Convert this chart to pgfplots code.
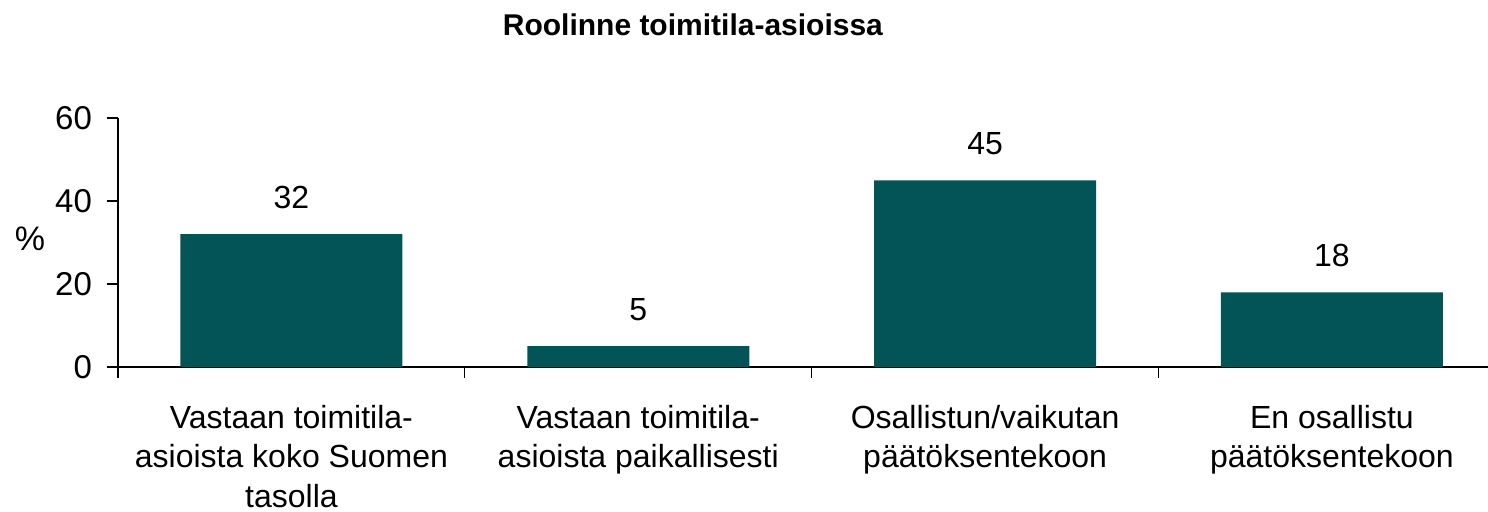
\documentclass[border=0pt]{standalone}
\usepackage{fontspec}
\setmainfont{Liberation Sans}
\usepackage{pgfplots}
\pgfplotsset{compat=1.18}
\definecolor{barc}{RGB}{2,84,87}
\begin{document}
\begin{tikzpicture}
\begin{axis}[
  at={(0,0)}, anchor=south west,
  scale only axis, width=685pt, height=124.5pt,
  xmin=-0.5, xmax=3.45, ymin=0, ymax=60,
  axis lines=left, axis line style={-, line width=0.6pt},
  ytick={0,20,40,60},
  tick align=outside, major tick length=5.5pt,
  tick style={black, line width=0.6pt},
  xtick={0,1,2,3},
  major x tick style={draw=none},
  minor xtick={-0.5,0.5,1.5,2.5},
  minor tick length=5.5pt,
  minor x tick style={black, line width=0.6pt},
  xticklabels={{Vastaan toimitila-\\asioista koko Suomen\\tasolla},{Vastaan toimitila-\\asioista paikallisesti},{Osallistun/vaikutan\\päätöksentekoon},{En osallistu\\päätöksentekoon}},
  xticklabel style={align=center, font=\fontsize{16}{19.7}\selectfont, anchor=north, yshift=-10pt},
  yticklabel style={font=\fontsize{16.5}{19}\selectfont, xshift=-4pt},
  /pgf/number format/assume math mode=true,
  ylabel={\%}, ylabel style={rotate=-90, at={(axis description cs:0,0.5)}, anchor=center, xshift=-44pt, yshift=2pt, font=\fontsize{17}{19}\selectfont},
  title={\textbf{Roolinne toimitila-asioissa}},
  title style={at={(axis description cs:0.4197,1)}, anchor=center, yshift=40.5pt, font=\fontsize{15}{18}\selectfont},
  ybar, bar width=111pt,
  nodes near coords,
  nodes near coords style={anchor=center, yshift=18.5pt, font=\fontsize{16}{19}\selectfont, black},
  clip=false,
]
\addplot[fill=barc, draw=none] coordinates {(0,32) (1,5) (2,45) (3,18)};
\end{axis}
\pgfresetboundingbox
\useasboundingbox (-59pt,-72.5pt) rectangle (685pt,183.5pt);
\end{tikzpicture}
\end{document}
